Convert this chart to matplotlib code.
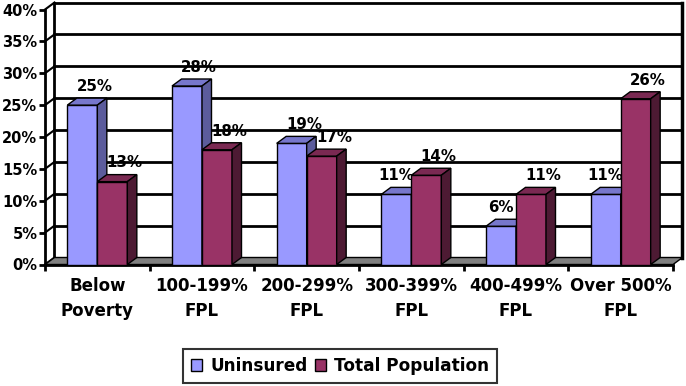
import matplotlib
matplotlib.use("Agg")
import matplotlib.pyplot as plt
from matplotlib.patches import Polygon, Rectangle, Patch
from matplotlib.lines import Line2D

categories = ["Below\nPoverty", "100-199%\nFPL", "200-299%\nFPL", "300-399%\nFPL", "400-499%\nFPL", "Over 500%\nFPL"]
uninsured = [25, 28, 19, 11, 6, 11]
total_pop = [13, 18, 17, 14, 11, 26]
series_names = ["Uninsured", "Total Population"]
yticks = [0, 5, 10, 15, 20, 25, 30, 35, 40]

W, H = 686, 386
fig = plt.figure(figsize=(W / 100, H / 100), dpi=100)
left_px, right_px, top_px, bot_px = 45, 673, 9.5, 264.5
ax = fig.add_axes([left_px / W, 1 - bot_px / H, (right_px - left_px) / W, (bot_px - top_px) / H])
n = len(categories)
ax.set_xlim(0, n)
ax.set_ylim(0, 40)
ax.set_facecolor("none")

px_x = (right_px - left_px) / n      # px per category
px_y = (bot_px - top_px) / 40.0      # px per percent
DX = 9.5 / px_x
DY = 7.0 / px_y

FONT = "DejaVu Sans"
lw_grid = 2.0

# back wall
wall = Polygon([(DX, DY), (n + DX, DY), (n + DX, 40 + DY), (DX, 40 + DY)], closed=True,
               facecolor="white", edgecolor="none", zorder=0.5, clip_on=False)
ax.add_patch(wall)
for v in yticks:
    ax.add_line(Line2D([DX, n + DX], [v + DY, v + DY], color="black", lw=lw_grid, zorder=1, clip_on=False))
    ax.add_line(Line2D([0, DX], [v, v + DY], color="black", lw=1.5, zorder=1, clip_on=False))
ax.add_line(Line2D([DX, DX], [DY, 40 + DY], color="black", lw=lw_grid, zorder=1, clip_on=False))
ax.add_line(Line2D([n + DX, n + DX], [DY, 40 + DY], color="black", lw=2.5, zorder=1, clip_on=False))

# floor
floor = Polygon([(0, 0), (n, 0), (n + DX, DY), (DX, DY)], closed=True,
                facecolor="#808080", edgecolor="black", lw=1, zorder=1.2, clip_on=False)
ax.add_patch(floor)

# bars
bw = 30.0 / px_x
gap_half = (1 - 2 * bw) / 2
colors = [("#9999FF", "#7777CC", "#5C5C9C"), ("#993366", "#7A2952", "#4D1A33")]

def draw_bar(x0, v, cols, z):
    front, top, side = cols
    x1 = x0 + bw
    ax.add_patch(Rectangle((x0, 0), bw, v, facecolor=front, edgecolor="black", lw=1, zorder=z, clip_on=False))
    ax.add_patch(Polygon([(x0, v), (x1, v), (x1 + DX, v + DY), (x0 + DX, v + DY)], closed=True,
                         facecolor=top, edgecolor="black", lw=1, zorder=z, clip_on=False))
    ax.add_patch(Polygon([(x1, 0), (x1 + DX, DY), (x1 + DX, v + DY), (x1, v)], closed=True,
                         facecolor=side, edgecolor="black", lw=1, zorder=z, clip_on=False))

for s, vals in enumerate([uninsured, total_pop]):
    for i, v in enumerate(vals):
        x0 = i + gap_half + s * bw
        z = 3 + i * 2 + s
        draw_bar(x0, v, colors[s], z)
        # label shifted back over the bar unless the neighbouring bar is taller
        shift = 2.0
        if s == 0 and total_pop[i] > v:
            shift = -7.0
        ax.annotate(f"{v}%", xy=(x0 + bw / 2 + DX, v + DY), xytext=(shift, 3), textcoords="offset points",
                    ha="center", va="bottom", fontsize=10.8, fontweight="bold", family=FONT,
                    zorder=z + 0.5, annotation_clip=False)

# axes, ticks
for sp in ["top", "right"]:
    ax.spines[sp].set_visible(False)
for sp in ["left", "bottom"]:
    ax.spines[sp].set_linewidth(2)
    ax.spines[sp].set_zorder(2)
ax.set_yticks(yticks)
ax.set_yticklabels([f"{v}%" for v in yticks], fontsize=10.5, fontweight="bold", family=FONT)
ax.tick_params(axis="y", length=4, width=2, pad=1.5)
ax.set_xticks(range(n + 1))
ax.set_xticklabels([])
ax.tick_params(axis="x", which="major", length=4, width=2, direction="out")
ax.set_xticks([i + 0.5 for i in range(n)], minor=True)
ax.set_xticklabels(categories, minor=True, fontsize=12, fontweight="bold", family=FONT, linespacing=1.5)
ax.tick_params(axis="x", which="minor", length=0, pad=9)

# legend
handles = [Patch(facecolor=colors[0][0], edgecolor="black", lw=1),
           Patch(facecolor=colors[1][0], edgecolor="black", lw=1)]
leg = fig.legend(handles, series_names, loc="center", bbox_to_anchor=(340 / W, 1 - 366 / H), ncol=2,
                 frameon=True, fancybox=False, handlelength=0.65, handleheight=0.65, handletextpad=0.45,
                 columnspacing=0.45, borderpad=0.5, borderaxespad=0,
                 prop={"family": FONT, "weight": "bold", "size": 12.2})
leg.get_frame().set_edgecolor("black")
leg.get_frame().set_linewidth(1.5)

fig.savefig("out.png", dpi=100)
